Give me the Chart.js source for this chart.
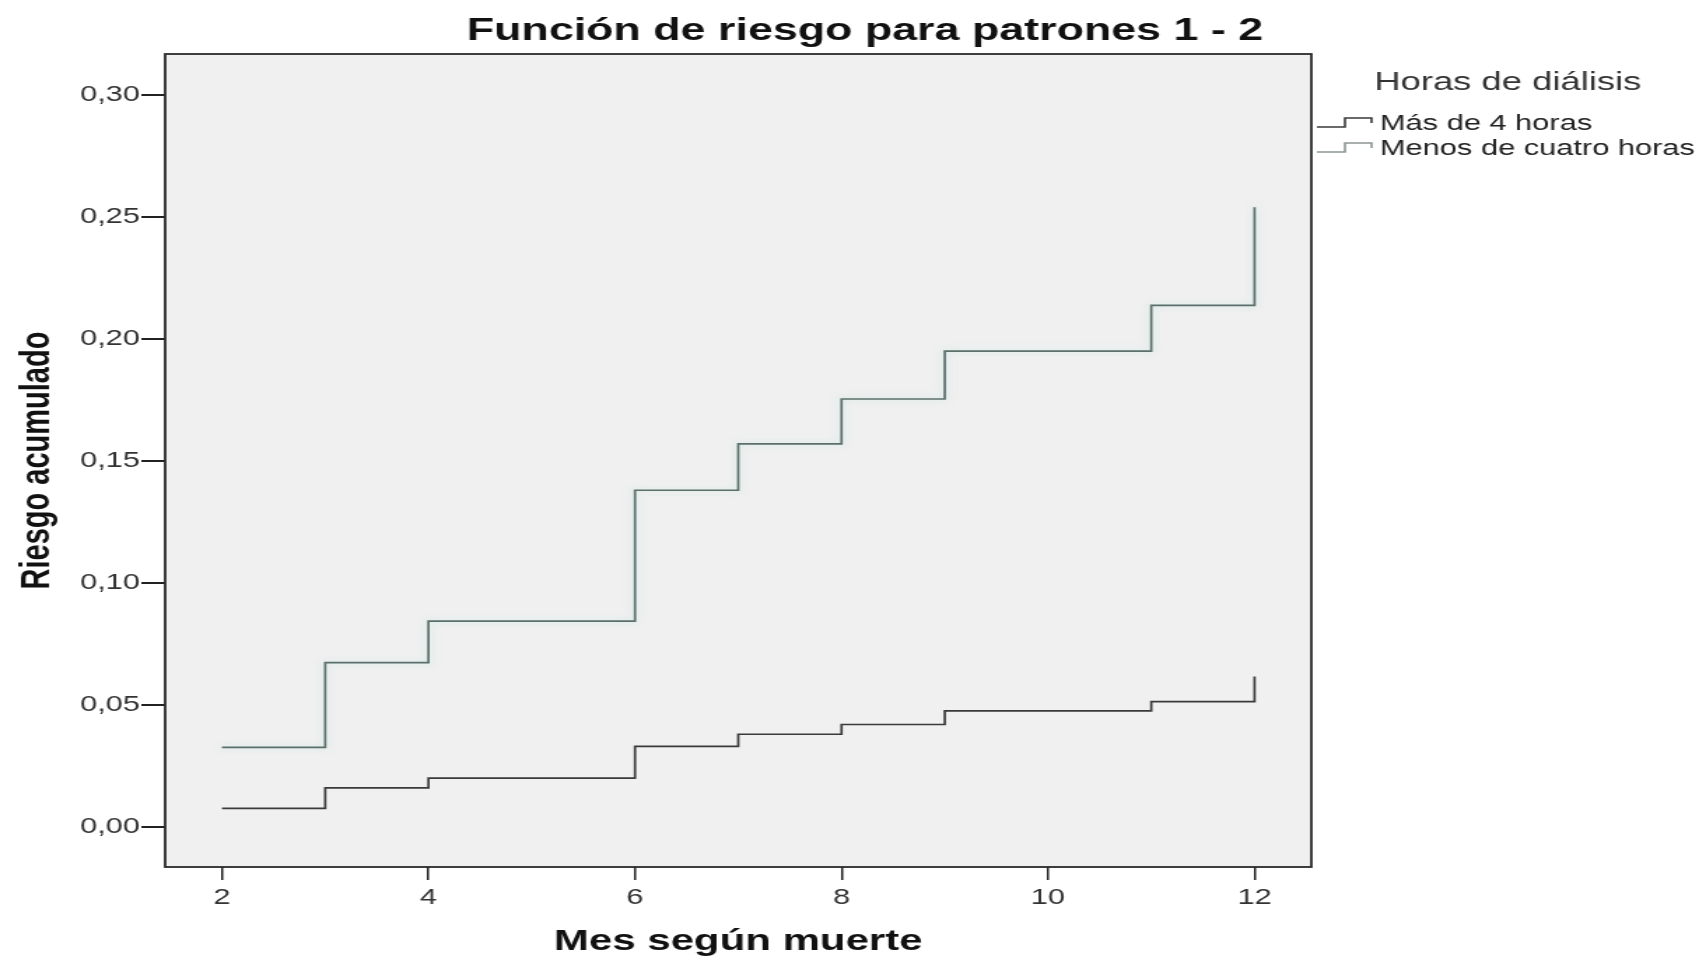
<!DOCTYPE html>
<html>
<head>
<meta charset="utf-8">
<script src="https://cdn.jsdelivr.net/npm/chart.js@4.4.1/dist/chart.umd.min.js"></script>
<style>
  html, body { margin: 0; padding: 0; background: #ffffff; overflow: hidden; }
  canvas { display: block; }
</style>
</head>
<body>
<!-- The chart is drawn on a narrower backing canvas and stretched horizontally to the page width -->
<canvas id="c" width="1219" height="963" style="width:1706px;height:963px"></canvas>
<script>
// Event months and cumulative hazard for each dialysis-hours group
const months = [2, 3, 4, 6, 7, 8, 9, 11, 12];
const riesgoMasCuatro = [0.0076, 0.0160, 0.0200, 0.0330, 0.0380, 0.0420, 0.0476, 0.0514, 0.0617];
const riesgoMenosCuatro = [0.0326, 0.0674, 0.0844, 0.1380, 0.1570, 0.1754, 0.1950, 0.2138, 0.2540];

// Axis ticks
const xTickValues = [2, 4, 6, 8, 10, 12];
const yTickValues = [0, 0.05, 0.10, 0.15, 0.20, 0.25, 0.30];

// Texts
const seriesNames = ['Más de 4 horas', 'Menos de cuatro horas'];
const chartTitle = 'Función de riesgo para patrones 1 - 2';
const legendTitle = 'Horas de diálisis';
const xTitle = 'Mes según muerte';
const yTitle = 'Riesgo acumulado';

const seriesColors = ['#3a3a3a', '#5b6f6b'];
const seriesGlow = ['rgba(0,0,0,0)', 'rgba(160,225,210,0.55)'];
const FONT = '"Liberation Sans", Arial, sans-serif';

const toPoints = (vals) => months.map((m, i) => ({ x: m, y: vals[i] }));

// Grey plot panel with a dark frame
const plotFrame = {
  id: 'plotFrame',
  beforeDatasetsDraw(chart) {
    const { ctx, chartArea: a } = chart;
    ctx.save();
    ctx.fillStyle = '#f0f0f0';
    ctx.fillRect(a.left, a.top, a.right - a.left, a.bottom - a.top);
    ctx.restore();
  },
  beforeDatasetDraw(chart, args) {
    const ctx = chart.ctx;
    ctx.save();
    ctx.shadowColor = seriesGlow[args.index];
    ctx.shadowBlur = 6;
  },
  afterDatasetDraw(chart) {
    chart.ctx.restore();
  },
  afterDatasetsDraw(chart) {
    const { ctx, chartArea: a } = chart;
    ctx.save();
    ctx.strokeStyle = '#2a2a2a';
    ctx.lineWidth = 1.8;
    ctx.strokeRect(a.left, a.top, a.right - a.left, a.bottom - a.top);
    ctx.restore();
  }
};

// Chart title and the step-symbol legend at the right of the panel
const titleAndLegend = {
  id: 'titleAndLegend',
  afterDraw(chart) {
    const { ctx, chartArea: a } = chart;
    ctx.save();
    ctx.fillStyle = '#111';
    ctx.font = 'bold 32px ' + FONT;
    ctx.textAlign = 'center';
    ctx.textBaseline = 'alphabetic';
    ctx.fillText(chartTitle, 618, 40);

    ctx.textAlign = 'left';
    ctx.textBaseline = 'middle';
    ctx.fillStyle = '#333';
    ctx.font = '26px ' + FONT;
    ctx.fillText(legendTitle, 982, 83);

    const rows = [124, 149];
    const x0 = a.right + 4;
    chart.data.datasets.forEach((ds, i) => {
      const y = rows[i];
      ctx.strokeStyle = i === 0 ? ds.borderColor : '#8a9693';
      ctx.lineWidth = 1.6;
      ctx.beginPath();
      ctx.moveTo(x0, y + 3);
      ctx.lineTo(x0 + 20, y + 3);
      ctx.lineTo(x0 + 20, y - 6);
      ctx.lineTo(x0 + 39, y - 6);
      ctx.lineTo(x0 + 39, y - 1);
      ctx.stroke();
      ctx.fillStyle = '#222';
      ctx.font = '22px ' + FONT;
      ctx.fillText(ds.label, 986, y);
    });
    ctx.restore();
  }
};

new Chart(document.getElementById('c'), {
  type: 'line',
  data: {
    datasets: [
      {
        label: seriesNames[0],
        data: toPoints(riesgoMasCuatro),
        borderColor: seriesColors[0],
        borderWidth: 1.7,
        stepped: true,
        pointRadius: 0,
        fill: false
      },
      {
        label: seriesNames[1],
        data: toPoints(riesgoMenosCuatro),
        borderColor: seriesColors[1],
        borderWidth: 1.7,
        stepped: true,
        pointRadius: 0,
        fill: false
      }
    ]
  },
  options: {
    responsive: false,
    devicePixelRatio: 1,
    animation: false,
    layout: { padding: { left: 0, top: 54, right: 282, bottom: 0 } },
    plugins: {
      legend: { display: false },
      title: { display: false },
      tooltip: { enabled: false }
    },
    scales: {
      x: {
        type: 'linear',
        min: 1.45,
        max: 12.55,
        afterBuildTicks(scale) { scale.ticks = xTickValues.map(v => ({ value: v })); },
        afterFit(scale) { scale.height = 96; },
        border: { display: false },
        grid: { drawOnChartArea: false, drawTicks: true, tickLength: 13, color: '#222', lineWidth: 1.5 },
        ticks: {
          font: { family: FONT, size: 22 },
          color: '#333',
          padding: 5,
          maxRotation: 0,
          callback: (v) => String(v)
        },
        title: {
          display: true,
          text: xTitle,
          color: '#111',
          font: { family: FONT, size: 30, weight: 'bold' },
          padding: { top: 0, bottom: 3 }
        }
      },
      y: {
        type: 'linear',
        min: -0.0164,
        max: 0.3168,
        afterBuildTicks(scale) { scale.ticks = yTickValues.map(v => ({ value: v })); },
        afterFit(scale) { scale.width = 118; },
        border: { display: false },
        grid: { drawOnChartArea: false, drawTicks: true, tickLength: 17, color: '#222', lineWidth: 2 },
        ticks: {
          font: { family: FONT, size: 22 },
          color: '#333',
          padding: 1,
          callback: (v) => v.toFixed(2).replace('.', ',')
        },
        title: {
          display: true,
          text: yTitle,
          color: '#111',
          font: { family: FONT, size: 29, weight: 'bold' },
          padding: { top: 10, bottom: 0 }
        }
      }
    }
  },
  plugins: [plotFrame, titleAndLegend]
});
</script>
</body>
</html>
